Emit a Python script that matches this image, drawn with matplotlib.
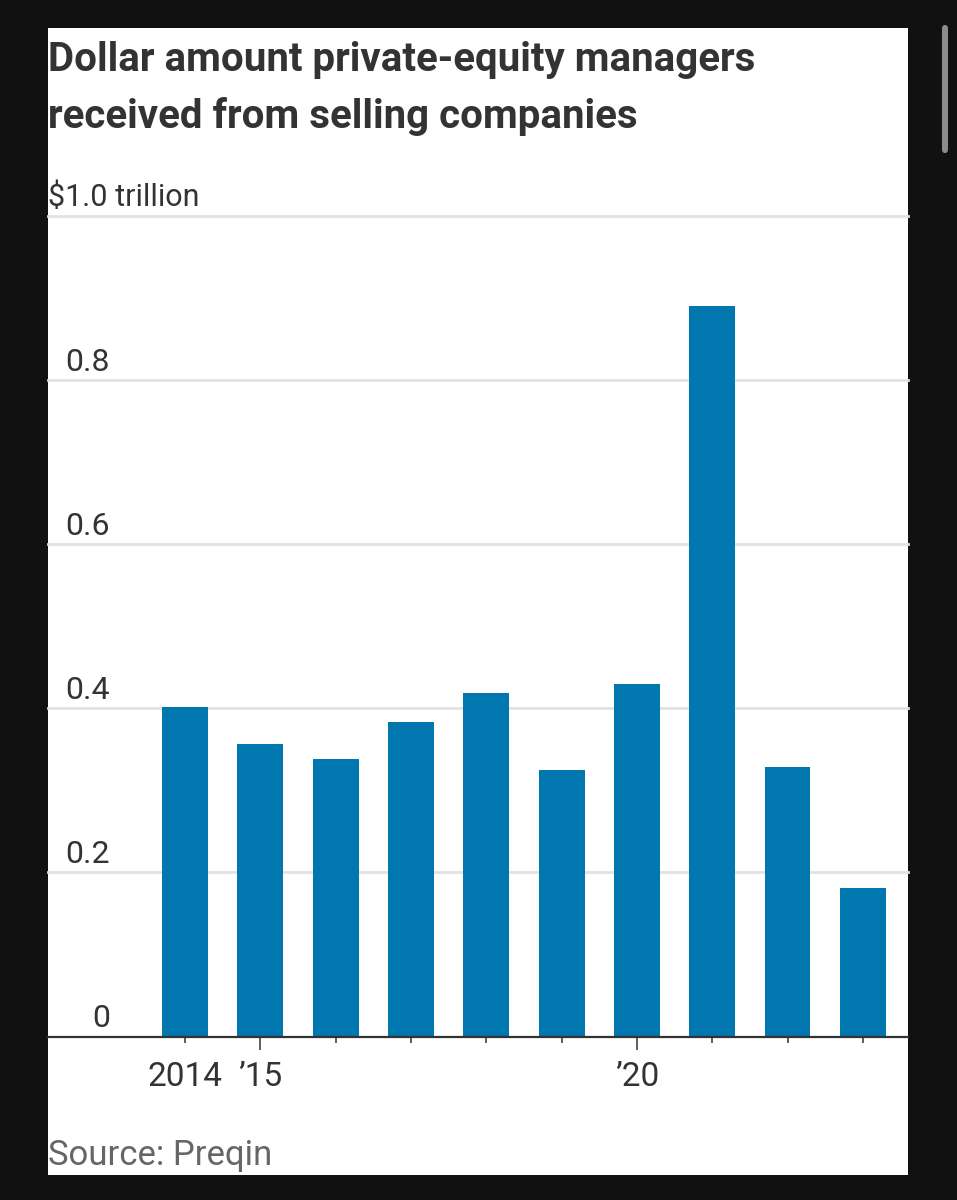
import matplotlib
matplotlib.use("Agg")
import matplotlib.pyplot as plt
from matplotlib.patches import Rectangle, FancyBboxPatch

# data (trillions of dollars)
years = [2014, 2015, 2016, 2017, 2018, 2019, 2020, 2021, 2022, 2023]
values = [0.401, 0.356, 0.338, 0.383, 0.418, 0.324, 0.429, 0.890, 0.328, 0.181]
tick_labels = {2014: '2014', 2015: "\u201915", 2020: "\u201920"}
major_years = [2015, 2020]
y_ticks = [0, 0.2, 0.4, 0.6, 0.8]
y_tick_labels = ['0', '0.2', '0.4', '0.6', '0.8']
title_lines = ['Dollar amount private-equity managers', 'received from selling companies']

plt.rcParams['font.family'] = ['Roboto', 'DejaVu Sans']
W, H = 957, 1200

fig = plt.figure(figsize=(W / 100, H / 100), dpi=100, facecolor='#111111')

# white card and the scrollbar
fig.patches.append(Rectangle((48 / W, 1 - 1175 / H), 860 / W, 1147 / H,
                             transform=fig.transFigure, facecolor='white',
                             edgecolor='none', zorder=-5))
fig.patches.append(FancyBboxPatch((942 / W, 1 - 153 / H), 6 / W, 128 / H,
                                  boxstyle='round,pad=0,rounding_size=0.003',
                                  transform=fig.transFigure, facecolor='#8c8c8c',
                                  edgecolor='none', zorder=-5))

ax = fig.add_axes([48 / W, 1 - 1036.5 / H, 860 / W, 821 / H])
ax.set_facecolor('none')

ax.bar(years, values, width=0.61, color='#0077ae', zorder=3)
ax.set_xlim(2012.18, 2023.6)
ax.set_ylim(0, 1.0)

for y in y_ticks[1:] + [1.0]:
    ax.axhline(y, color='#e2e2e2', lw=2, zorder=1, clip_on=False)

for s in ['top', 'right', 'left']:
    ax.spines[s].set_visible(False)
ax.spines['bottom'].set_color('#333333')
ax.spines['bottom'].set_linewidth(1.6)
ax.spines['bottom'].set_zorder(4)

ax.set_yticks([])
ax.set_xticks(years)
ax.set_xticklabels([tick_labels.get(y, '') for y in years])
ax.tick_params(axis='x', length=4, width=1.1, color='#333333', labelsize=24,
               labelcolor='#333333', pad=14)
# longer tick marks for '15 and '20
for t, y in zip(ax.xaxis.get_major_ticks(), years):
    if y in major_years:
        t.tick1line.set_markersize(9)

tr = ax.get_yaxis_transform()
for y, lab in zip(y_ticks, y_tick_labels):
    ax.text(62 / 860, y + 0.011, lab, transform=tr, ha='right', va='baseline',
            fontsize=23, color='#333333')
ax.text(0, 1.0 + 0.011, '$1.0 trillion', transform=tr, ha='left', va='baseline',
        fontsize=22, color='#333333')

# title, sized so the first line spans the same width as in the original
t1 = fig.text(48 / W, 1 - 71 / H, title_lines[0], ha='left', va='baseline',
              fontsize=27, fontweight='bold', color='#333333')
t2 = fig.text(48 / W, 1 - 128 / H, title_lines[1], ha='left', va='baseline',
              fontsize=27, fontweight='bold', color='#333333')
fig.canvas.draw()
w = t1.get_window_extent().width
fs = min(27 * 758 / w, 29)
t1.set_fontsize(fs)
t2.set_fontsize(fs)

fig.text(48 / W, 1 - 1165 / H, 'Source: Preqin', ha='left', va='baseline',
         fontsize=25, color='#666666')

fig.savefig('out.png', dpi=100, facecolor=fig.get_facecolor())
